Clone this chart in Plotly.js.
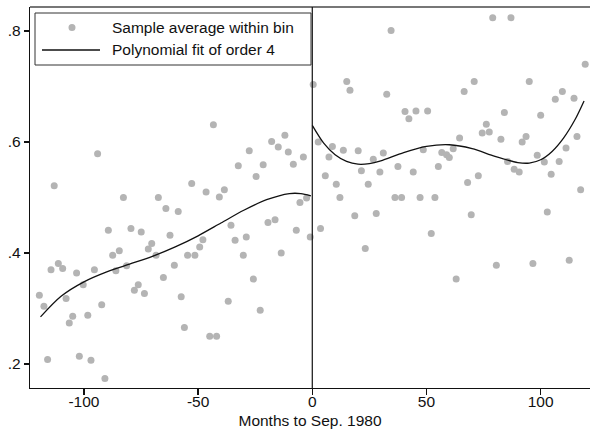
<!DOCTYPE html>
<html>
<head>
<meta charset="utf-8">
<script src="https://cdn.plot.ly/plotly-3.0.1.min.js"></script>
<style>html,body{margin:0;padding:0;background:#fff;}#chart{width:590px;height:432px;}</style>
</head>
<body>
<div id="chart"></div>
<script>
// Bin averages, left of cutoff (months to Sep. 1980)
const leftX = [-119.5,-117.5,-115.9,-114.4,-113,-111.2,-109.3,-107.8,-106.4,-104.9,-103.2,-102,-100.3,-98.3,-96.9,-95.4,-94,-92.2,-90.8,-89.3,-87.4,-86,-84.5,-82.7,-81.3,-79.4,-77.9,-76.2,-74.9,-73.5,-71.8,-70.3,-68.4,-67.4,-65.2,-64.1,-62.3,-60.4,-58.7,-57.4,-56,-54.6,-52.8,-51.4,-49.3,-47.9,-46.5,-44.9,-43.3,-41.9,-40.7,-38.5,-36.8,-35.6,-33.8,-32.4,-30.2,-28.9,-27.6,-25.8,-24.6,-22.8,-21.5,-19.4,-17.8,-16.3,-14.9,-13.6,-12,-10.5,-8.3,-7,-5.4,-3.9,-2.5,-0.9];
const leftY = [0.324,0.304,0.208,0.370,0.521,0.381,0.372,0.318,0.274,0.286,0.364,0.214,0.343,0.288,0.207,0.370,0.579,0.307,0.174,0.441,0.396,0.368,0.404,0.500,0.377,0.444,0.333,0.343,0.438,0.327,0.407,0.417,0.396,0.500,0.356,0.480,0.432,0.378,0.475,0.321,0.266,0.396,0.525,0.396,0.411,0.424,0.510,0.250,0.631,0.250,0.501,0.514,0.313,0.450,0.423,0.557,0.396,0.429,0.584,0.353,0.538,0.297,0.559,0.455,0.601,0.460,0.591,0.400,0.612,0.582,0.560,0.441,0.491,0.573,0.499,0.429];
// Bin averages, right of cutoff
const rightX = [0.4,2.6,3.6,5.7,7.3,8.8,10.5,12.1,13.6,15.1,16.5,18.6,20.1,21.5,23.2,24.5,26.7,28,29.6,31.1,32.6,34.5,36.2,37.5,39.1,40.6,42.3,44.2,45.4,47.2,48.6,50.5,52.1,53.7,55.2,56.7,58.8,60,61.7,63,64.5,66.5,68,69.6,70.9,72.7,74.4,76.2,77.5,79,80.6,82.6,84.1,85.5,87,88.4,90.6,91.9,93.6,95,96.6,98.5,100,101.6,102.9,104.6,106.4,108.1,109.5,111.1,112.5,114.6,115.9,117.5,119.5];
const rightY = [0.7035,0.600,0.444,0.539,0.573,0.592,0.524,0.500,0.585,0.709,0.693,0.467,0.584,0.548,0.408,0.524,0.569,0.471,0.546,0.580,0.686,0.801,0.500,0.556,0.500,0.655,0.642,0.546,0.656,0.500,0.586,0.656,0.435,0.500,0.556,0.581,0.577,0.572,0.588,0.353,0.607,0.691,0.527,0.469,0.709,0.539,0.616,0.632,0.618,0.824,0.378,0.605,0.653,0.565,0.824,0.551,0.546,0.600,0.610,0.709,0.381,0.576,0.648,0.564,0.474,0.542,0.677,0.565,0.691,0.589,0.387,0.679,0.610,0.514,0.740];
// Polynomial fit (order 4)
const fitLeftX = [-119,-110,-100,-90,-80,-70,-60,-50,-40,-30,-20,-10,-5,-0.6];
const fitLeftY = [0.285,0.322,0.348,0.366,0.380,0.394,0.411,0.431,0.454,0.477,0.496,0.507,0.507,0.503];
const fitRightX = [0,5,10,15,20,25,30,40,50,60,70,80,90,95,100,105,110,115,119];
const fitRightY = [0.630,0.598,0.577,0.565,0.560,0.561,0.566,0.581,0.592,0.595,0.588,0.574,0.563,0.562,0.568,0.583,0.607,0.640,0.674];
const xTickVals = [-100,-50,0,50,100];
const xTickText = ["-100","-50","0","50","100"];
const yTickVals = [0.2,0.4,0.6,0.8];
const yTickText = [".2",".4",".6",".8"];
const legendLabels = ["Sample average within bin","Polynomial fit of order 4"];

const dotColor = "#b4b4b4";
const font = {family: "Liberation Sans, Arial, sans-serif", size: 15.5, color: "#111"};

const traces = [
  {x: leftX, y: leftY, type: "scatter", mode: "markers", marker: {color: dotColor, size: 7}, showlegend: false, hoverinfo: "x+y"},
  {x: rightX, y: rightY, type: "scatter", mode: "markers", marker: {color: dotColor, size: 7}, showlegend: false, hoverinfo: "x+y"},
  {x: fitLeftX, y: fitLeftY, type: "scatter", mode: "lines", line: {color: "#111", width: 1.3, shape: "spline", smoothing: 0.8}, showlegend: false},
  {x: fitRightX, y: fitRightY, type: "scatter", mode: "lines", line: {color: "#111", width: 1.3, shape: "spline", smoothing: 0.8}, showlegend: false}
];

const W = 560, H = 381; // plot area size in px
const px = v => v / W, py = v => 1 - v / H; // legend placement offsets from plot top-left

const layout = {
  width: 590, height: 432,
  margin: {l: 30, r: 0, t: 7, b: 44, pad: 0},
  paper_bgcolor: "#fff", plot_bgcolor: "#fff",
  font: font,
  showlegend: false,
  xaxis: {
    range: [-123.6, 121.6], tickvals: xTickVals, ticktext: xTickText,
    showgrid: false, zeroline: false, showline: true, linecolor: "#111", linewidth: 1.3,
    ticks: "outside", ticklen: 6, tickcolor: "#111", tickwidth: 1.2, tickfont: font,
    ticklabelstandoff: -7,
    title: {text: "Months to Sep. 1980", font: font, standoff: 6}
  },
  yaxis: {
    range: [0.1568, 0.8432], tickvals: yTickVals, ticktext: yTickText,
    showgrid: false, zeroline: false, showline: true, linecolor: "#111", linewidth: 1.3,
    ticks: "outside", ticklen: 5, tickcolor: "#111", tickwidth: 1.2, tickfont: font
  },
  shapes: [
    {type: "line", xref: "paper", yref: "paper", x0: 0, x1: 1, y0: 1, y1: 1, line: {color: "#777", width: 2}},
    {type: "line", xref: "x", yref: "paper", x0: 0, x1: 0, y0: 0, y1: 1, line: {color: "#111", width: 1.2}},
    // legend box
    {type: "rect", xref: "paper", yref: "paper", x0: px(5), x1: px(281), y0: py(6), y1: py(58), line: {color: "#333", width: 1}, fillcolor: "#fff", layer: "above"},
    {type: "line", xref: "paper", yref: "paper", x0: px(12), x1: px(70), y0: py(43), y1: py(43), line: {color: "#111", width: 1.3}, layer: "above"},
    {type: "circle", xref: "paper", yref: "paper", xsizemode: "pixel", ysizemode: "pixel", xanchor: px(42), yanchor: py(20.5), x0: -3.5, x1: 3.5, y0: -3.5, y1: 3.5, fillcolor: dotColor, line: {width: 0}, layer: "above"}
  ],
  annotations: [
    {xref: "paper", yref: "paper", x: px(80), y: py(20.5), text: legendLabels[0], showarrow: false, xanchor: "left", yanchor: "middle", font: font},
    {xref: "paper", yref: "paper", x: px(80), y: py(43), text: legendLabels[1], showarrow: false, xanchor: "left", yanchor: "middle", font: font}
  ]
};

Plotly.newPlot("chart", traces, layout, {displayModeBar: false, staticPlot: true});
</script>
</body>
</html>
